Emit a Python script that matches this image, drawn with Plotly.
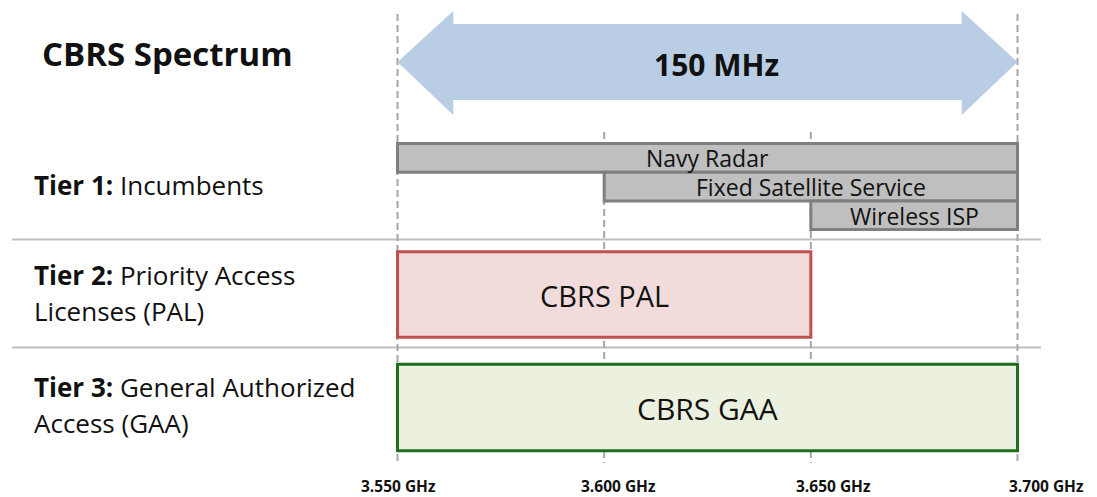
import plotly.graph_objects as go

# ---- data -------------------------------------------------------------
band_low, band_high = 3.550, 3.700          # GHz
band_label = "150 MHz"

tier_labels = [
    "<b>Tier 1:</b> Incumbents",
    "<b>Tier 2:</b> Priority Access<br>Licenses (PAL)",
    "<b>Tier 3:</b> General Authorized<br>Access (GAA)",
]

incumbent_names = ["Navy Radar", "Fixed Satellite Service", "Wireless ISP"]
incumbent_start = [3.550, 3.600, 3.650]
incumbent_end = [3.700, 3.700, 3.700]

pal_name, pal_start, pal_end = "CBRS PAL", 3.550, 3.650
gaa_name, gaa_start, gaa_end = "CBRS GAA", 3.550, 3.700

tick_values = [3.550, 3.600, 3.650, 3.700]
tick_labels = ["3.550 GHz", "3.600 GHz", "3.650 GHz", "3.700 GHz"]

# ---- page geometry (vertical axis runs in page pixels, top = 0) ------
W, H = 1097, 497
px_per_ghz = 620 / 0.150
x_min = band_low - 397.5 / px_per_ghz
x_max = x_min + W / px_per_ghz

FONT = "Open Sans"
TEXT = "#111111"

fig = go.Figure()

# double-headed span arrow
head = 0.0135
shaft_top, shaft_bot, head_top, head_bot, mid = 24, 100, 11, 115, 62
ax = [band_low, band_low + head, band_low + head, band_high - head,
      band_high - head, band_high, band_high - head, band_high - head,
      band_low + head, band_low + head, band_low]
ay = [mid, head_top, shaft_top, shaft_top, head_top, mid, head_bot,
      shaft_bot, shaft_bot, head_bot, mid]
fig.add_trace(go.Scatter(x=ax, y=ay, fill="toself", fillcolor="#b9cde5",
                         mode="lines", line=dict(width=0), hoverinfo="skip"))

# tier 1 incumbent bars
inc_h = 28.7
inc_y0 = 143.5
inc_centers = [inc_y0 + inc_h * (i + 0.5) for i in range(len(incumbent_names))]
fig.add_trace(go.Bar(
    orientation="h",
    base=incumbent_start,
    x=[e - s for s, e in zip(incumbent_start, incumbent_end)],
    y=inc_centers, width=inc_h,
    marker=dict(color="#bfbfbf", line=dict(color="#7f7f7f", width=3)),
    hoverinfo="skip",
))

# tier 2 / tier 3 bars
fig.add_trace(go.Bar(
    orientation="h", base=[pal_start], x=[pal_end - pal_start],
    y=[294.5], width=85.5,
    marker=dict(color="#f2dcdb", line=dict(color="#c0504d", width=3)),
    hoverinfo="skip",
))
fig.add_trace(go.Bar(
    orientation="h", base=[gaa_start], x=[gaa_end - gaa_start],
    y=[407.5], width=86.5,
    marker=dict(color="#ebf1de", line=dict(color="#1f6e1f", width=3)),
    hoverinfo="skip",
))

shapes = []
# dashed frequency guides
guide_top = {3.550: 14, 3.600: 132, 3.650: 132, 3.700: 14}
for v in tick_values:
    shapes.append(dict(type="line", xref="x", yref="y", x0=v, x1=v,
                       y0=guide_top[v], y1=463, layer="below",
                       line=dict(color="#a6a6a6", width=2, dash="7px,4px")))
# tier separators
for yy in (239.5, 347.5):
    shapes.append(dict(type="line", xref="paper", yref="y",
                       x0=12 / W, x1=1041 / W, y0=yy, y1=yy, layer="below",
                       line=dict(color="#bfbfbf", width=2)))

annotations = []
annotations.append(dict(text="<b>CBRS Spectrum</b>", xref="paper", yref="y",
                        x=40 / W, y=53, xanchor="left", yanchor="middle",
                        showarrow=False, font=dict(family=FONT, size=33, color=TEXT)))
annotations.append(dict(text=f"<b>{band_label}</b>", xref="x", yref="y",
                        x=(band_low + band_high) / 2, xshift=9, y=64,
                        showarrow=False, font=dict(family=FONT, size=30, color=TEXT)))

# tier labels on the left
tier_rows = [[185], [275, 311], [387, 423]]
for label, rows in zip(tier_labels, tier_rows):
    for line, yy in zip(label.split("<br>"), rows):
        annotations.append(dict(text=line, xref="paper", yref="y", x=32 / W, y=yy,
                                xanchor="left", yanchor="middle", showarrow=False,
                                font=dict(family=FONT, size=26, color=TEXT)))

# labels inside bars
for name, s, e, yc in zip(incumbent_names, incumbent_start, incumbent_end, inc_centers):
    annotations.append(dict(text=name, xref="x", yref="y", x=(s + e) / 2, y=yc + 0.5,
                            showarrow=False,
                            font=dict(family=FONT, size=23, color=TEXT)))
annotations.append(dict(text=pal_name, xref="x", yref="y", x=(pal_start + pal_end) / 2,
                        y=295, showarrow=False, font=dict(family=FONT, size=29, color=TEXT)))
annotations.append(dict(text=gaa_name, xref="x", yref="y", x=(gaa_start + gaa_end) / 2,
                        y=408, showarrow=False, font=dict(family=FONT, size=30, color=TEXT)))

# frequency tick labels
tick_shift = [1, 14, 23, 29]
for v, lab, sh in zip(tick_values, tick_labels, tick_shift):
    annotations.append(dict(text=f"<b>{lab}</b>", xref="x", yref="y", x=v, xshift=sh,
                            y=486, showarrow=False,
                            font=dict(family=FONT, size=15.5, color=TEXT)))

fig.update_layout(
    width=W, height=H,
    margin=dict(l=0, r=0, t=0, b=0),
    paper_bgcolor="white", plot_bgcolor="white",
    showlegend=False, barmode="overlay", hovermode=False,
    xaxis=dict(range=[x_min, x_max], visible=False, fixedrange=True),
    yaxis=dict(range=[H, 0], visible=False, fixedrange=True),
    shapes=shapes, annotations=annotations,
)

fig.write_html("out.html")
